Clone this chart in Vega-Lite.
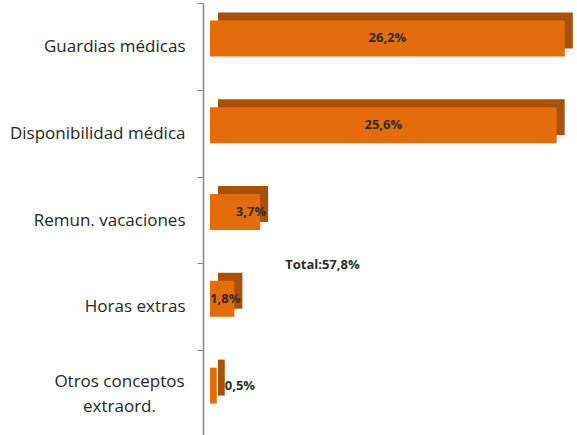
{
  "$schema": "https://vega.github.io/schema/vega-lite/v6.json",
  "width": 367,
  "height": 434,
  "autosize": "none",
  "padding": {"left": 210, "top": 3, "right": 0, "bottom": 0},
  "background": "white",
  "config": {"view": {"stroke": null}, "font": "Open Sans"},
  "data": {"values": [
    {"concepto": "Guardias médicas", "valor": 26.2},
    {"concepto": "Disponibilidad médica", "valor": 25.6},
    {"concepto": "Remun. vacaciones", "valor": 3.7},
    {"concepto": "Horas extras", "valor": 1.8},
    {"concepto": "Otros conceptos extraord.", "valor": 0.5}
  ]},
  "transform": [
    {"calculate": "replace(format(datum.valor, '.1f'), '.', ',') + '%'", "as": "etiqueta"},
    {"calculate": "datum.valor / 2", "as": "mitad"}
  ],
  "encoding": {
    "y": {
      "field": "concepto",
      "type": "nominal",
      "sort": null,
      "scale": {"paddingInner": 0, "paddingOuter": 0},
      "axis": {
        "title": null,
        "domainColor": "#868686",
        "domainWidth": 1.5,
        "tickColor": "#868686",
        "tickSize": 6,
        "tickBand": "extent",
        "labelFontSize": 17,
        "labelColor": "#262626",
        "labelPadding": {"condition": {"test": "datum.value == 'Otros conceptos extraord.'", "value": 78}, "value": 12},
        "labelAlign": {"condition": {"test": "datum.value == 'Otros conceptos extraord.'", "value": "center"}, "value": "right"},
        "labelLineHeight": 25,
        "labelLimit": 250,
        "labelOffset": {"condition": {"test": "datum.value == 'Otros conceptos extraord.'", "value": -12}, "value": 0},
        "offset": 7,
        "labelExpr": "datum.value == 'Otros conceptos extraord.' ? ['Otros conceptos', 'extraord.'] : datum.value"
      }
    }
  },
  "layer": [
    {
      "mark": {"type": "bar", "size": 36, "xOffset": 8, "yOffset": -16, "color": "#A9500A"},
      "encoding": {"x": {"field": "valor", "type": "quantitative", "scale": {"domain": [0, 27.1], "nice": false}, "axis": null}}
    },
    {
      "mark": {"type": "bar", "size": 36, "yOffset": -8, "color": "#E46C0A"},
      "encoding": {"x": {"field": "valor", "type": "quantitative"}}
    },
    {
      "transform": [{"filter": "datum.valor > 10"}],
      "mark": {"type": "text", "align": "center", "yOffset": -8, "fontSize": 13, "fontWeight": "bold", "color": "#2b2b2b"},
      "encoding": {"x": {"field": "mitad", "type": "quantitative"}, "text": {"field": "etiqueta"}}
    },
    {
      "transform": [{"filter": "datum.valor > 1 && datum.valor < 10"}],
      "mark": {"type": "text", "align": "right", "dx": 6, "yOffset": -8, "fontSize": 13, "fontWeight": "bold", "color": "#2b2b2b"},
      "encoding": {"x": {"field": "valor", "type": "quantitative"}, "text": {"field": "etiqueta"}}
    },
    {
      "transform": [{"filter": "datum.valor < 1"}],
      "mark": {"type": "text", "align": "left", "dx": 8, "yOffset": -8, "fontSize": 13, "fontWeight": "bold", "color": "#2b2b2b"},
      "encoding": {"x": {"field": "valor", "type": "quantitative"}, "text": {"field": "etiqueta"}}
    },
    {
      "data": {"values": [{"t": "Total:57,8%"}]},
      "mark": {"type": "text", "align": "center", "yOffset": -42, "fontSize": 13, "fontWeight": "bold", "color": "#2b2b2b"},
      "encoding": {
        "x": {"datum": 8.3, "type": "quantitative"},
        "y": {"datum": "Horas extras", "type": "nominal"},
        "text": {"field": "t"}
      }
    }
  ]
}
